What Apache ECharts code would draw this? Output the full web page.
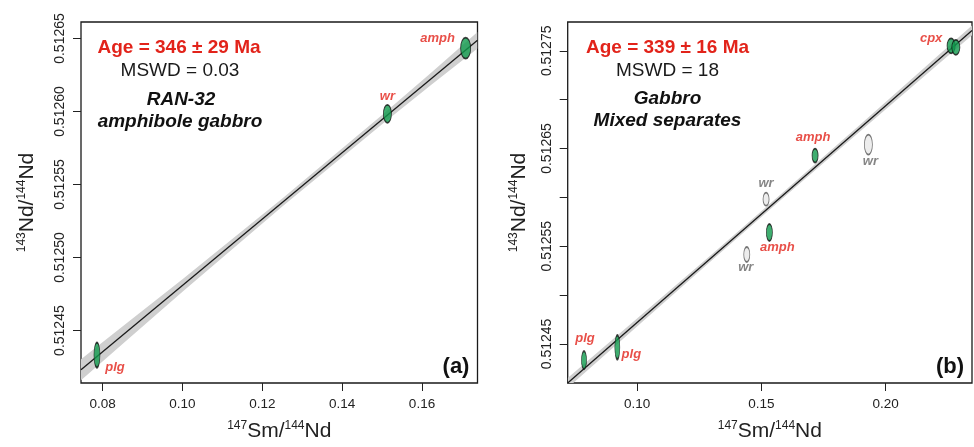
<!DOCTYPE html>
<html><head><meta charset="utf-8">
<script src="https://cdn.jsdelivr.net/npm/echarts@6/dist/echarts.min.js"></script>
<style>html,body{margin:0;padding:0;background:#fff}#c{width:974px;height:447px}</style>
</head><body><div id="c"></div>
<script>
// ---------- Panel (a): RAN-32 amphibole gabbro ----------
const aSm    = [0.07858, 0.15133, 0.17093];
const aNd    = [0.5124332, 0.5125984, 0.5126434];
const aNames = ['plg', 'wr', 'amph'];
const aKind  = ['min', 'min', 'min'];
const aLineX = [0.07458, 0.1739];
const aLineY = [0.5124232, 0.5126488];
const aBandX  = [0.07458, 0.0875, 0.10, 0.125, 0.15, 0.1625, 0.1739];
const aBandLo = [0.5124160, 0.5124468, 0.5124766, 0.5125349, 0.5125913, 0.5126187, 0.5126432];
const aBandHi = [0.5124304, 0.5124582, 0.5124852, 0.5125405, 0.5125977, 0.5126271, 0.5126544];
const aXRange = [0.07458, 0.1739];
const aYRange = [0.5124141, 0.5126613];
const aXTicks = [0.08, 0.10, 0.12, 0.14, 0.16];
const aYTicks = [0.51245, 0.51250, 0.51255, 0.51260, 0.51265];
const aYLabels = [0.51245, 0.51250, 0.51255, 0.51260, 0.51265];

// ---------- Panel (b): Gabbro mixed separates ----------
const bSm    = [0.07868, 0.09208, 0.14413, 0.15322, 0.15189, 0.1716, 0.19304, 0.2263, 0.2282];
const bNd    = [0.5124334, 0.5124466, 0.5125416, 0.5125640, 0.5125981, 0.5126428, 0.5126540, 0.5127551, 0.5127536];
const bNames = ['plg', 'plg', 'wr', 'amph', 'wr', 'amph', 'wr', 'cpx', ''];
const bKind  = ['min', 'min', 'wr', 'min', 'wr', 'min', 'wr', 'min', 'min'];
const bLineX = [0.07212, 0.2347];
const bLineY = [0.51241, 0.5127709];
const bBandX  = [0.07212, 0.10, 0.13, 0.16, 0.19, 0.2347];
const bBandLo = [0.512405, 0.5124679, 0.5125355, 0.5126021, 0.5126682, 0.5127659];
const bBandHi = [0.512415, 0.5124759, 0.5125415, 0.5126081, 0.5126752, 0.5127759];
const bXRange = [0.07212, 0.2347];
const bYRange = [0.51241, 0.5127795];
const bXTicks = [0.10, 0.15, 0.20];
const bYTicks = [0.51245, 0.51250, 0.51255, 0.51260, 0.51265, 0.51270, 0.51275];
const bYLabels = [0.51245, 0.51255, 0.51265, 0.51275];

// ---------- styles (pixel sizes / offsets) ----------
const aEllipse = [[6, 25], [8, 18], [10, 21]];
const aLabelOff = [[18, 12.5], [0, -17], [-28, -10]];
const bEllipse = [[5, 18], [5, 24], [6, 15], [6, 17], [6, 13], [6, 14], [8, 20], [8, 15], [8, 15]];
const bLabelOff = [[1, -22], [14, 7], [-1, 12.5], [8, 14.5], [0, -16], [-2, -18], [2, 17], [-20, -7], [0, 0]];

const FONT = '"Liberation Sans", Arial, Helvetica, sans-serif';
const RED = '#e2231a';
const GREEN = '#0f9a4c';

const chart = echarts.init(document.getElementById('c'), null, {renderer: 'canvas'});

function xAxisDef(gi, range, ticks, dec) {
  return {
    gridIndex: gi, type: 'value', min: range[0], max: range[1],
    axisLine: {show: false}, splitLine: {show: false},
    axisTick: {show: true, length: 8, customValues: ticks, lineStyle: {color: '#222', width: 1}},
    axisLabel: {customValues: ticks, margin: 14, fontSize: 13.5, color: '#222', fontFamily: FONT,
      formatter: v => Number(v).toFixed(dec)},
    name: '{sup|147}{main|Sm/}{sup|144}{main|Nd}',
    nameLocation: 'middle', nameGap: 37,
    nameTextStyle: {rich: {
      sup: {fontSize: 12, fontFamily: FONT, color: '#222', verticalAlign: 'top', lineHeight: 22},
      main: {fontSize: 21, fontFamily: FONT, color: '#222', verticalAlign: 'bottom', lineHeight: 22}
    }}
  };
}
function yAxisDef(gi, range, ticks, labels, gap) {
  return {
    gridIndex: gi, type: 'value', min: range[0], max: range[1],
    axisLine: {show: false}, splitLine: {show: false},
    axisTick: {show: true, length: 8, customValues: ticks, lineStyle: {color: '#222', width: 1}},
    axisLabel: {customValues: labels, margin: 14, rotate: 90, fontSize: 14, color: '#222', fontFamily: FONT,
      formatter: v => Number(v).toFixed(5)},
    name: '{sup|143}{main|Nd/}{sup|144}{main|Nd}',
    nameLocation: 'middle', nameRotate: 90, nameGap: gap,
    nameTextStyle: {rich: {
      sup: {fontSize: 12, fontFamily: FONT, color: '#222', verticalAlign: 'top', lineHeight: 22},
      main: {fontSize: 21, fontFamily: FONT, color: '#222', verticalAlign: 'bottom', lineHeight: 22}
    }}
  };
}
function bandSeries(gi, bx, lo, hi) {
  return {
    type: 'custom', xAxisIndex: gi, yAxisIndex: gi, silent: true, z: 1,
    data: [[bx[0], lo[0]]],
    renderItem: function (params, api) {
      const pts = [];
      for (let i = 0; i < bx.length; i++) pts.push(api.coord([bx[i], lo[i]]));
      for (let i = bx.length - 1; i >= 0; i--) pts.push(api.coord([bx[i], hi[i]]));
      const cs = params.coordSys;
      return {
        type: 'polygon', shape: {points: pts},
        style: {fill: '#cfcfcf', stroke: null},
        clipPath: {type: 'rect', shape: {x: cs.x, y: cs.y, width: cs.width, height: cs.height}}
      };
    }
  };
}
function lineSeries(gi, lx, ly) {
  return {
    type: 'line', xAxisIndex: gi, yAxisIndex: gi, silent: true, z: 2,
    symbol: 'none', data: lx.map((x, i) => [x, ly[i]]),
    lineStyle: {color: '#1a1a1a', width: 1.3}
  };
}
function scatterSeries(gi, xs, ys, names, kinds, sizes, offs) {
  return {
    type: 'scatter', xAxisIndex: gi, yAxisIndex: gi, z: 3, symbol: 'circle',
    data: xs.map((x, i) => {
      const isWr = kinds[i] === 'wr';
      return {
        value: [x, ys[i]],
        symbolSize: sizes[i],
        itemStyle: {color: isWr ? '#e8e8e8' : GREEN, borderColor: isWr ? '#555' : '#111', borderWidth: 1.2},
        label: {
          show: names[i] !== '', formatter: names[i], position: 'inside', offset: offs[i],
          align: 'center', verticalAlign: 'middle',
          fontSize: 13, fontWeight: 'bold', fontStyle: 'italic', fontFamily: FONT,
          color: isWr ? '#666' : RED
        }
      };
    })
  };
}
function txt(x, y, text, font, fill) {
  return {type: 'text', x: x, y: y, z: 10, silent: true,
    style: {text: text, font: font, fill: fill, align: 'center', verticalAlign: 'middle',
      textAlign: 'center', textVerticalAlign: 'middle'}};
}

const option = {
  backgroundColor: '#fff',
  animation: false,
  grid: [
    {left: 81, top: 22, width: 396.5, height: 363, show: true, borderColor: '#1a1a1a', borderWidth: 1.3, backgroundColor: 'transparent'},
    {left: 567.7, top: 22, width: 404.3, height: 363, show: true, borderColor: '#1a1a1a', borderWidth: 1.3, backgroundColor: 'transparent'}
  ],
  xAxis: [xAxisDef(0, aXRange, aXTicks, 2), xAxisDef(1, bXRange, bXTicks, 2)],
  yAxis: [yAxisDef(0, aYRange, aYTicks, aYLabels, 43), yAxisDef(1, bYRange, bYTicks, bYLabels, 38)],
  series: [
    bandSeries(0, aBandX, aBandLo, aBandHi),
    lineSeries(0, aLineX, aLineY),
    scatterSeries(0, aSm, aNd, aNames, aKind, aEllipse, aLabelOff),
    bandSeries(1, bBandX, bBandLo, bBandHi),
    lineSeries(1, bLineX, bLineY),
    scatterSeries(1, bSm, bNd, bNames, bKind, bEllipse, bLabelOff)
  ],
  graphic: [
    txt(179, 48, 'Age = 346 ± 29 Ma', 'bold 19px ' + FONT, RED),
    txt(180, 71, 'MSWD = 0.03', '19px ' + FONT, '#1a1a1a'),
    txt(181, 100, 'RAN-32', 'italic bold 19px ' + FONT, '#111'),
    txt(180, 122, 'amphibole gabbro', 'italic bold 19px ' + FONT, '#111'),
    txt(456, 367, '(a)', 'bold 22px ' + FONT, '#111'),
    txt(667.5, 48, 'Age = 339 ± 16 Ma', 'bold 19px ' + FONT, RED),
    txt(667.5, 71, 'MSWD = 18', '19px ' + FONT, '#1a1a1a'),
    txt(667.5, 99, 'Gabbro', 'italic bold 19px ' + FONT, '#111'),
    txt(667.5, 121, 'Mixed separates', 'italic bold 19px ' + FONT, '#111'),
    txt(950, 367, '(b)', 'bold 22px ' + FONT, '#111')
  ]
};
chart.setOption(option);
</script>
</body></html>
